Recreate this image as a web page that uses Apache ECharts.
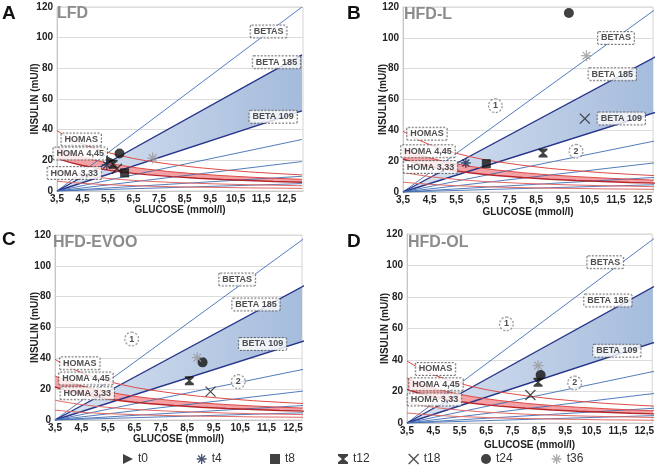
<!DOCTYPE html>
<html><head><meta charset="utf-8">
<script src="https://cdn.jsdelivr.net/npm/echarts@6/dist/echarts.min.js"></script>
<style>html,body{margin:0;padding:0;background:#fff}#c{width:657px;height:476px}</style>
</head><body><div id="c"></div>
<script>
// ---------- data ----------
const seriesNames = ['t0','t4','t8','t12','t18','t24','t36'];
const panelLetters = ['A','B','C','D'];
const panelTitles = ['LFD','HFD-L','HFD-EVOO','HFD-OL'];
const refLabels = ['BETAS','BETA 185','BETA 109','HOMAS','HOMA 4,45','HOMA 3,33'];
const circleLabels = ['1','2'];
const yTicks = [0,20,40,60,80,100,120];

// points (glucose mmol/l, insulin mU/l) in order t0..t36
const lfdGlucose = [5.6, 5.45, 6.15, 5.7, 5.85, 5.95, 7.25];
const lfdInsulin = [20, 17, 11.8, 17.5, 14.5, 24.5, 21.5];
const hfdLGlucose = [null, 5.86, 6.63, 8.76, 10.33, 9.73, 10.39];
const hfdLInsulin = [null, 18.8, 18.4, 25.3, 47.6, 116.1, 88.4];
const hfdEvooGlucose = [null, null, null, 8.58, 9.38, 9.08, 8.88];
const hfdEvooInsulin = [null, null, null, 25.5, 18.4, 37.4, 40.4];
const hfdOlGlucose = [null, null, null, 8.47, 8.18, 8.57, 8.47];
const hfdOlInsulin = [null, null, null, 25.8, 17.8, 30.5, 36.4];

// HOMA-beta reference lines (straight from 3.5 mmol/l, 0 mU/l)
const lineGlucose = [3.5, 13.1];
const betaEndInsulin = [120, 88.8, 52.3, 33.6, 19.2, 9.6, 4.8];

// HOMA-IR reference curves
const homaGlucose = [3.5,3.75,4,4.5,5,5.5,6,6.5,7,8,9,10,11,12,13.1];
const homaS   = [39.4,36.8,34.5,30.7,27.6,25.1,23.0,21.2,19.7,17.3,15.3,13.8,12.5,11.5,10.5];
const homa445 = [28.6,26.7,25.0,22.2,20.0,18.2,16.7,15.4,14.3,12.5,11.1,10.0,9.1,8.3,7.6];
const homa333 = [21.4,20.0,18.7,16.6,15.0,13.6,12.5,11.5,10.7,9.4,8.3,7.5,6.8,6.2,5.7];
const homa2   = [12.9,12.0,11.3,10.0,9.0,8.2,7.5,6.9,6.4,5.6,5.0,4.5,4.1,3.8,3.4];
const homa1   = [6.4,6.0,5.6,5.0,4.5,4.1,3.8,3.5,3.2,2.8,2.5,2.3,2.0,1.9,1.7];

const panelGlucose = [lfdGlucose, hfdLGlucose, hfdEvooGlucose, hfdOlGlucose];
const panelInsulin = [lfdInsulin, hfdLInsulin, hfdEvooInsulin, hfdOlInsulin];

// ---------- layout ----------
const grids = [
  {left:57, top:7, width:246, height:184},
  {left:403, top:7, width:250, height:185},
  {left:55, top:235, width:247, height:185},
  {left:407, top:234, width:246, height:189}
];
const xMax = [13.14, 12.89, 12.84, 12.8];
const xNameGap = [10, 15, 5, 17];
const yNameGap = [17, 15, 15, 17];
const letterPos = [[2,4],[347,4],[2,230],[347,232]];
const titlePos = [[57,6],[404,7],[53,235],[408,235]];
const labelPos = [
  [[11.79,104],[12.1,84],[11.97,48.4],[4.45,33.6],[4.41,24.5],[4.18,11.7]],
  [[11.5,99.9],[11.36,76.3],[11.7,47.6],[4.4,37.8],[4.44,26.4],[4.53,16.2]],
  [[10.39,91.2],[11.1,75],[11.35,49.3],[4.44,36.8],[4.67,27],[4.72,17.3]],
  [[11.02,102],[11.12,77.7],[11.46,45.9],[4.58,34.3],[4.6,24.6],[4.54,15]]
];
const circlePos = [
  null,
  [[6.97,56],[10.0,26.4]],
  [[6.4,52.5],[10.43,24.9]],
  [[7.27,62.9],[9.86,25.4]]
];
const legendLeft = [118, 191, 265, 333, 403, 476, 546];

// ---------- symbols ----------
const sym = {
  t0: 'path://M0,0L10,5L0,10Z',
  t4: 'path://M5,0L5,10M0,5L10,5M1.5,1.5L8.5,8.5M8.5,1.5L1.5,8.5',
  t8: 'rect',
  t12: 'path://M0,0L10,0L10,1.8L6,5L10,8.2L10,10L0,10L0,8.2L4,5L0,1.8Z',
  t18: 'path://M0,0L10,10M10,0L0,10',
  t24: 'circle',
  t36: 'path://M5,0L5,10M0,5L10,5M1.5,1.5L8.5,8.5M8.5,1.5L1.5,8.5'
};
const symSize = {t0:9, t4:10, t8:9, t12:[9,9], t18:10, t24:10, t36:11};
const stroked = {t4:'#1c2a4d', t18:'#222', t36:'#9a9a9a'};
const fillCol = {t0:'#111', t8:'#111', t12:'#111', t24:'#111'};

const FONT = '"Liberation Sans", Arial, sans-serif';
const series = [], xAxis = [], yAxis = [], grid = [], title = [], legend = [];

function bandSeries(p, upper, lower, fill) {
  return {
    type:'custom', xAxisIndex:p, yAxisIndex:p, silent:true, clip:true, z:1, animation:false,
    data:[0],
    renderItem: (params, api) => {
      const pts = upper.map(d => api.coord(d)).concat(lower.slice().reverse().map(d => api.coord(d)));
      return {type:'polygon', shape:{points:pts}, style:{fill:fill}};
    }
  };
}

for (let p = 0; p < 4; p++) {
  grid.push(Object.assign({show:true, borderColor:'#d4d4d4', borderWidth:1, backgroundColor:'#fff'}, grids[p]));
  xAxis.push({
    type:'value', gridIndex:p, min:3.5, max:xMax[p], interval:0.5,
    name:'GLUCOSE (mmol/l)', nameLocation:'middle', nameGap:xNameGap[p],
    nameTextStyle:{fontFamily:FONT, fontWeight:'bold', fontSize:10, color:'#222'},
    axisLine:{show:true, lineStyle:{color:'#c8c8c8'}}, axisTick:{show:false},
    splitLine:{show:false},
    axisLabel:{margin:3, fontFamily:FONT, fontWeight:'bold', fontSize:10, color:'#222', showMaxLabel:false,
      formatter: v => (Math.abs(((v - 3.5) % 1)) < 1e-6 ? v.toFixed(1).replace('.', ',') : '')}
  });
  yAxis.push({
    type:'value', gridIndex:p, min:yTicks[0], max:yTicks[yTicks.length-1], interval:20,
    name:'INSULIN (mU/l)', nameLocation:'middle', nameGap:yNameGap[p], nameMoveOverlap:false,
    nameTextStyle:{fontFamily:FONT, fontWeight:'bold', fontSize:10, color:'#222'},
    axisLine:{show:true, lineStyle:{color:'#c8c8c8'}}, axisTick:{show:false},
    splitLine:{show:true, lineStyle:{color:'#dcdcdc'}},
    axisLabel:{margin:4, fontFamily:FONT, fontWeight:'bold', fontSize:10, color:'#222'}
  });
  title.push({text:panelLetters[p], left:letterPos[p][0], top:letterPos[p][1], padding:0,
    textStyle:{fontFamily:FONT, fontWeight:'bold', fontSize:19, color:'#111'}});
  title.push({text:panelTitles[p], left:titlePos[p][0], top:titlePos[p][1], padding:0,
    textStyle:{fontFamily:FONT, fontWeight:'bold', fontSize:16, color:'#8c8c8c'}});

  const ax = {xAxisIndex:p, yAxisIndex:p, silent:true, animation:false};
  const lineBase = Object.assign({type:'line', showSymbol:false, symbol:'none', clip:true}, ax);

  // blue band BETA109..BETA185
  const b185 = lineGlucose.map((g,i) => [g, i === 0 ? 0 : betaEndInsulin[1]]);
  const b109 = lineGlucose.map((g,i) => [g, i === 0 ? 0 : betaEndInsulin[2]]);
  series.push(bandSeries(p, b185, b109,
    new echarts.graphic.LinearGradient(0,0,1,0,[{offset:0,color:'#d9e3f1'},{offset:1,color:'#a4bbdc'}])));
  // red band HOMA 3.33..4.45
  const h445 = homaGlucose.map((g,i) => [g, homa445[i]]);
  const h333 = homaGlucose.map((g,i) => [g, homa333[i]]);
  series.push(bandSeries(p, h445, h333, '#f3a1a4'));

  // blue lines
  betaEndInsulin.forEach((end, k) => {
    const dark = (k === 1 || k === 2);
    series.push(Object.assign({}, lineBase, {
      data: lineGlucose.map((g,i) => [g, i === 0 ? 0 : end]), z:2,
      lineStyle:{color: dark ? '#26348a' : '#3f6db3', width: dark ? 1.4 : 0.9}
    }));
  });
  // red curves
  [[homaS,'#dd4b47',1],[homa445,'#dd4b47',1],[homa333,'#b8262b',1.4],[homa2,'#e06a66',1],[homa1,'#e06a66',1]].forEach(c => {
    series.push(Object.assign({}, lineBase, {
      data: homaGlucose.map((g,i) => [g, c[0][i]]), z:2,
      lineStyle:{color:c[1], width:c[2]}
    }));
  });

  // reference labels
  series.push(Object.assign({type:'scatter', symbolSize:1, itemStyle:{color:'rgba(0,0,0,0)'}, z:5,
    data: refLabels.map((t,i) => ({name:t, value:labelPos[p][i]})),
    label:{show:true, position:'inside', formatter:'{b}', fontFamily:FONT, fontWeight:'bold', fontSize:9, color:'#222',
      backgroundColor:'#fff', borderColor:'#555', borderWidth:1, borderType:[2,1.5], padding:[2,3,1,3], borderRadius:1}
  }, ax));
  if (circlePos[p]) {
    series.push(Object.assign({type:'scatter', symbolSize:1, itemStyle:{color:'rgba(0,0,0,0)'}, z:5,
      data: circleLabels.map((t,i) => ({name:t, value:circlePos[p][i]})),
      label:{show:true, position:'inside', formatter:'{b}', fontFamily:FONT, fontWeight:'bold', fontSize:9, color:'#222',
        backgroundColor:'#fff', borderColor:'#777', borderWidth:1, borderType:[2,1.5],
        width:13, height:13, lineHeight:13, align:'center', borderRadius:7, padding:0}
    }, ax));
  }

  // data markers
  seriesNames.forEach((n, k) => {
    const g = panelGlucose[p][k], ins = panelInsulin[p][k];
    const isStroke = !!stroked[n];
    series.push(Object.assign({}, ax, {
      type:'scatter', name:n, symbol:sym[n], symbolSize:symSize[n], z:6,
      data: g == null ? [] : [[g, ins]],
      itemStyle: isStroke ? {color:'rgba(0,0,0,0)', borderColor:stroked[n], borderWidth:1.3}
                          : {color:fillCol[n]}
    }));
  });
}

seriesNames.forEach((n, k) => {
  const isStroke = !!stroked[n];
  legend.push({data:[n], left:legendLeft[k], top:448, itemWidth:10, itemHeight:10, itemGap:4, selectedMode:false,
    textStyle:{fontFamily:FONT, fontSize:12, color:'#333'},
    itemStyle: isStroke ? {color:'rgba(0,0,0,0)', borderColor:stroked[n], borderWidth:1.3} : {color:fillCol[n]}
  });
});

const chart = echarts.init(document.getElementById('c'), null, {renderer:'canvas'});
chart.setOption({backgroundColor:'#fff', animation:false, grid, xAxis, yAxis, title, legend, series});
</script></body></html>
